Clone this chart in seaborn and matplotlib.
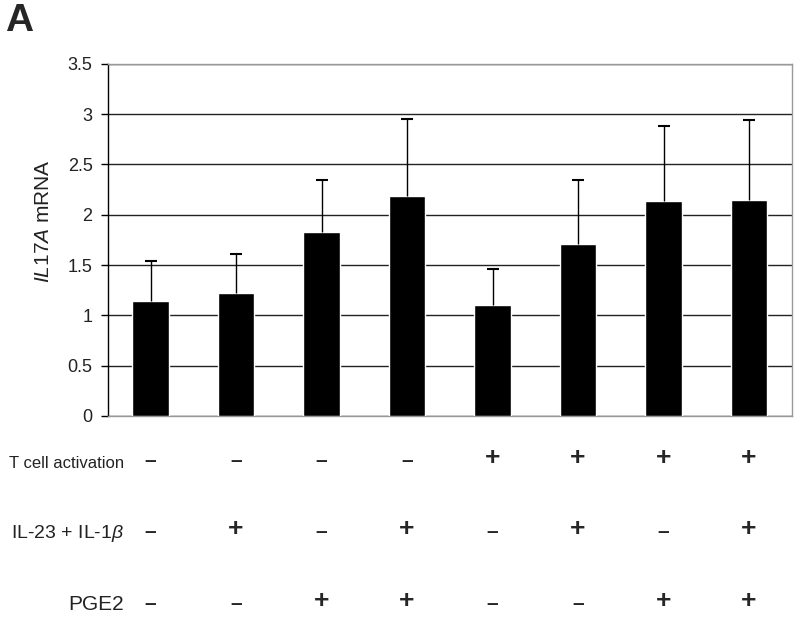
import numpy as np
import pandas as pd
import seaborn as sns
import matplotlib.pyplot as plt
from matplotlib.transforms import blended_transform_factory

# values
conditions = ["c1", "c2", "c3", "c4", "c5", "c6", "c7", "c8"]
il17a_mrna = [1.14, 1.22, 1.83, 2.19, 1.10, 1.71, 2.14, 2.15]
err_upper = [0.40, 0.39, 0.52, 0.76, 0.36, 0.64, 0.74, 0.79]
t_cell = ["-", "-", "-", "-", "+", "+", "+", "+"]
il23_il1b = ["-", "+", "-", "+", "-", "+", "-", "+"]
pge2 = ["-", "-", "+", "+", "-", "-", "+", "+"]
row_labels = ["T cell activation", "IL-23 + IL-1$\\mathit{\\beta}$", "PGE2"]

sns.set_style("white")
plt.rcParams["font.family"] = ["Liberation Sans", "DejaVu Sans"]
plt.rcParams["mathtext.fontset"] = "custom"
plt.rcParams["mathtext.rm"] = "Liberation Sans"
plt.rcParams["mathtext.it"] = "Liberation Sans:italic"

df = pd.DataFrame({"cond": conditions, "val": il17a_mrna})

fig = plt.figure(figsize=(7.99, 6.33), dpi=100)
ax = fig.add_axes([0.135, 0.343, 0.856, 0.556])

sns.barplot(data=df, x="cond", y="val", color="black", width=0.43,
            errorbar=None, saturation=1, ax=ax, zorder=3)

xs = np.arange(len(conditions))
_, caps, _ = ax.errorbar(xs, il17a_mrna, yerr=[np.zeros(len(xs)), err_upper],
                         fmt="none", ecolor="black", elinewidth=1.0, capsize=4,
                         capthick=1.5, zorder=4)
caps[0].set_visible(False)  # only the upper cap

ax.set_ylim(0, 3.5)
ax.set_xlim(-0.5, len(conditions) - 0.5)
ax.set_yticks(np.arange(0, 3.51, 0.5))
ax.set_yticklabels(["0", "0.5", "1", "1.5", "2", "2.5", "3", "3.5"])
ax.yaxis.grid(True, color="#222222", linewidth=1.0, zorder=0)
ax.set_axisbelow(True)
ax.tick_params(axis="y", left=True, length=5, width=1, color="black",
               labelsize=13, labelcolor="#222222", pad=6, direction="out")
ax.tick_params(axis="x", bottom=False, labelbottom=False)
ax.set_xlabel("")
ax.set_ylabel("$\\mathit{IL17A}$ mRNA", fontsize=15, color="#222222")
ax.yaxis.set_label_coords(-0.080, 0.554)

for side in ["top", "right", "bottom"]:
    ax.spines[side].set_color("#999999")
    ax.spines[side].set_linewidth(1.0)
ax.spines["left"].set_color("black")
ax.spines["left"].set_linewidth(1.0)

# condition table below the axes
trans = blended_transform_factory(ax.transData, fig.transFigure)
label_y = [1 - 463 / 633, 1 - 533 / 633, 1 - 605 / 633]
sign_y = [1 - 458 / 633, 1 - 529 / 633, 1 - 601 / 633]
label_sizes = [12, 14, 15]
for label, yy, fs in zip(row_labels, label_y, label_sizes):
    fig.text(124 / 799, yy, label, ha="right", va="center", fontsize=fs,
             color="#222222")
for signs, yy in zip([t_cell, il23_il1b, pge2], sign_y):
    for x, s in zip(xs, signs):
        if s == "+":
            ax.text(x, yy, "+", transform=trans, ha="center", va="center",
                    fontsize=19, fontweight="bold", clip_on=False)
        else:
            ax.text(x, yy - 0.004, "\u2013", transform=trans, ha="center",
                    va="center", fontsize=15, fontweight="bold", clip_on=False)

fig.text(5 / 799, 1 - 21 / 633, "A", fontsize=28, fontweight="bold",
         ha="left", va="center")

fig.savefig("out.png", dpi=100)
